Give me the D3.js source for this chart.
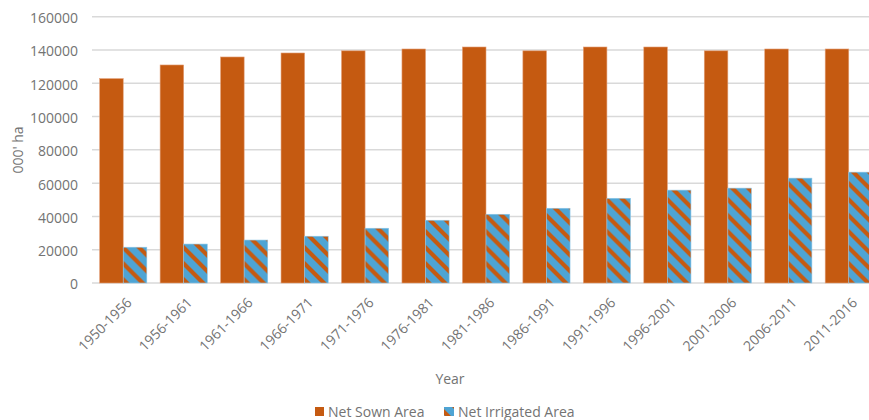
<!DOCTYPE html>
<html>
<head>
<meta charset="utf-8">
<script src="https://cdn.jsdelivr.net/npm/d3@7"></script>
<style>
  body { margin: 0; background: #fff; }
  text { font-family: "Open Sans", sans-serif; fill: #737373; }
</style>
</head>
<body>
<div id="chart"></div>
<script>
// chart data
var periods = ["1950-1956", "1956-1961", "1961-1966", "1966-1971", "1971-1976", "1976-1981",
  "1981-1986", "1986-1991", "1991-1996", "1996-2001", "2001-2006", "2006-2011", "2011-2016"];
var netSown = [122800, 131000, 135800, 138200, 139500, 140600, 141800, 139500, 141800, 141800, 139500, 140600, 140600];
var netIrrigated = [21500, 23400, 25800, 28100, 32900, 37700, 41300, 44900, 50900, 55800, 57000, 63000, 66600];
var seriesNames = ["Net Sown Area", "Net Irrigated Area"];
var yTicks = [0, 20000, 40000, 60000, 80000, 100000, 120000, 140000, 160000];

var width = 869, height = 420;
var orange = "#c55a11", blue = "#4ea4d4";
var textColor = "#737373";

var svg = d3.select("#chart").append("svg")
    .attr("width", width)
    .attr("height", height);

// diagonal stripe pattern for irrigated bars
var defs = svg.append("defs");
var pat = defs.append("pattern")
    .attr("id", "stripes")
    .attr("patternUnits", "userSpaceOnUse")
    .attr("width", 16)
    .attr("height", 16);
pat.append("rect").attr("width", 16).attr("height", 16).attr("fill", blue);
pat.append("path")
    .attr("d", "M-8,8 L8,24 M0,0 L16,16 M8,-8 L24,8")
    .attr("stroke", orange)
    .attr("stroke-width", 4.2);

var x = d3.scaleBand()
    .domain(periods)
    .range([93, 879])
    .paddingInner(0.22)
    .paddingOuter(0.11);

var xInner = d3.scaleBand()
    .domain(seriesNames)
    .range([0, x.bandwidth()]);

var y = d3.scaleLinear()
    .domain([0, 160000])
    .range([283, 16.7]);

// gridlines
svg.append("g")
    .selectAll("line")
    .data(yTicks)
    .enter().append("line")
    .attr("x1", 92)
    .attr("x2", width)
    .attr("y1", function(d) { return y(d); })
    .attr("y2", function(d) { return y(d); })
    .attr("stroke", "#d9d9d9")
    .attr("stroke-width", 1.5);

// y axis labels
var yAxis = d3.axisLeft(y).tickValues(yTicks).tickFormat(d3.format("d")).tickSize(0).tickPadding(0);
svg.append("g")
    .attr("transform", "translate(78,0)")
    .call(yAxis)
    .call(function(g) { g.select(".domain").remove(); })
    .selectAll("text")
    .style("font-family", "'Open Sans', sans-serif")
    .style("font-size", "14px")
    .style("fill", textColor)
    .attr("dy", "0.42em");

svg.append("text")
    .attr("transform", "translate(23,150) rotate(-90)")
    .attr("text-anchor", "middle")
    .style("font-size", "14px")
    .text("000' ha");

// bars
var groups = svg.append("g")
    .selectAll("g")
    .data(periods)
    .enter().append("g")
    .attr("transform", function(d) { return "translate(" + x(d) + ",0)"; });

groups.append("rect")
    .attr("x", xInner("Net Sown Area"))
    .attr("width", xInner.bandwidth())
    .attr("y", function(d, i) { return y(netSown[i]); })
    .attr("height", function(d, i) { return y(0) - y(netSown[i]); })
    .attr("fill", orange)
    .attr("stroke", "#e3a07a")
    .attr("stroke-width", 0.6);

groups.append("rect")
    .attr("x", xInner("Net Irrigated Area"))
    .attr("width", xInner.bandwidth())
    .attr("y", function(d, i) { return y(netIrrigated[i]); })
    .attr("height", function(d, i) { return y(0) - y(netIrrigated[i]); })
    .attr("fill", "url(#stripes)")
    .attr("stroke", "#8cc6e6")
    .attr("stroke-width", 0.6);

// x axis labels
var xAxis = d3.axisBottom(x).tickSize(0).tickPadding(0);
svg.append("g")
    .attr("transform", "translate(0,294)")
    .call(xAxis)
    .call(function(g) { g.select(".domain").remove(); })
    .selectAll("text")
    .style("font-family", "'Open Sans', sans-serif")
    .style("font-size", "14px")
    .style("fill", textColor)
    .attr("text-anchor", "end")
    .attr("dy", "0.35em")
    .attr("transform", "translate(6,6) rotate(-45)");

svg.append("text")
    .attr("x", 450)
    .attr("y", 384)
    .attr("text-anchor", "middle")
    .style("font-size", "14px")
    .text("Year");

// legend
var legend = svg.append("g");
legend.append("rect")
    .attr("x", 315).attr("y", 407).attr("width", 9).attr("height", 9)
    .attr("fill", orange);
legend.append("text")
    .attr("x", 328).attr("y", 417)
    .style("font-size", "14px")
    .text(seriesNames[0]);
legend.append("rect")
    .attr("x", 444).attr("y", 407).attr("width", 10).attr("height", 9)
    .attr("fill", "url(#stripes)");
legend.append("text")
    .attr("x", 458).attr("y", 417)
    .style("font-size", "14px")
    .text(seriesNames[1]);
</script>
</body>
</html>
